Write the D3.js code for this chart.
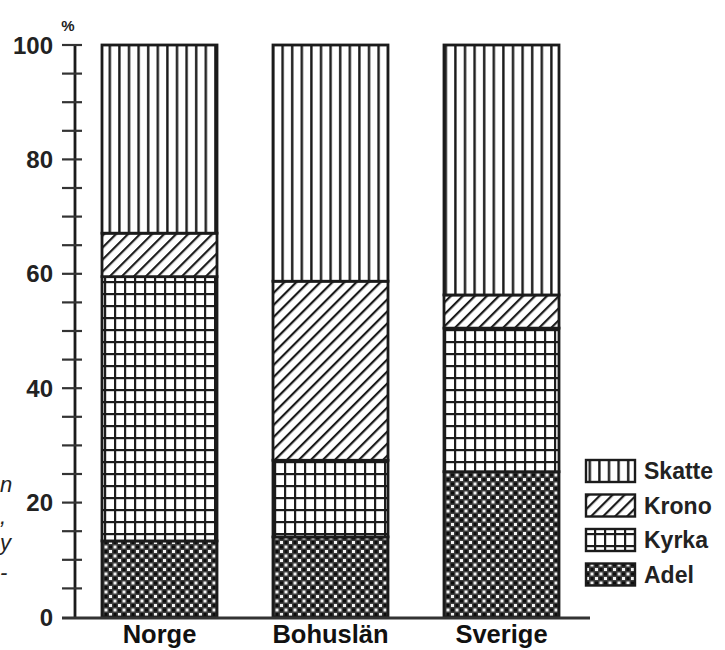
<!DOCTYPE html>
<html>
<head>
<meta charset="utf-8">
<script src="https://cdn.jsdelivr.net/npm/d3@7/dist/d3.min.js"></script>
<style>
html,body{margin:0;padding:0;background:#fff;}
svg{display:block;}
text{font-family:"Liberation Sans",Arial,Helvetica,sans-serif;}
</style>
</head>
<body>
<svg id="chart" width="725" height="650"></svg>
<script>
// ---- data ----
const categories = ["Norge", "Bohuslän", "Sverige"];
const seriesNames = ["Adel", "Kyrka", "Krono", "Skatte"];
const adel   = [13.3, 14.0, 25.4];
const kyrka  = [46.2, 13.4, 25.1];
const krono  = [7.6, 31.3, 5.8];
const skatte = [32.9, 41.3, 43.7];
const yTickLabels = [0, 20, 40, 60, 80, 100];
const legendOrder = ["Skatte", "Krono", "Kyrka", "Adel"];
const sideFragments = ["n", ",", "y", "-"];

const rows = categories.map((c, i) => ({
  cat: c, Adel: adel[i], Kyrka: kyrka[i], Krono: krono[i], Skatte: skatte[i]
}));

const ink = "#1b1b1b";
const svg = d3.select("#chart");
const defs = svg.append("defs");

// ---- patterns ----
const pS = defs.append("pattern").attr("id", "pSkatte")
  .attr("patternUnits", "userSpaceOnUse").attr("width", 9.6).attr("height", 10);
pS.append("rect").attr("width", 9.6).attr("height", 10).attr("fill", "#fff");
pS.append("rect").attr("x", 3).attr("width", 2.4).attr("height", 10).attr("fill", ink);

const pK = defs.append("pattern").attr("id", "pKrono")
  .attr("patternUnits", "userSpaceOnUse").attr("width", 8.5).attr("height", 8)
  .attr("patternTransform", "rotate(45)");
pK.append("rect").attr("width", 8.5).attr("height", 8).attr("fill", "#fff");
pK.append("rect").attr("x", 0).attr("width", 2.2).attr("height", 8).attr("fill", ink);

const pY = defs.append("pattern").attr("id", "pKyrka")
  .attr("patternUnits", "userSpaceOnUse").attr("width", 10).attr("height", 12);
pY.append("rect").attr("width", 10).attr("height", 12).attr("fill", "#fff");
pY.append("rect").attr("x", 4).attr("width", 2.2).attr("height", 12).attr("fill", ink);
pY.append("rect").attr("y", 5).attr("width", 10).attr("height", 2.2).attr("fill", ink);

const pA = defs.append("pattern").attr("id", "pAdel")
  .attr("patternUnits", "userSpaceOnUse").attr("width", 9).attr("height", 9);
pA.append("rect").attr("width", 9).attr("height", 9).attr("fill", "#3c3c3c");
pA.append("rect").attr("x", 1).attr("y", 1).attr("width", 3).attr("height", 3).attr("fill", "#f2f2f2");
pA.append("rect").attr("x", 5.5).attr("y", 5.5).attr("width", 3).attr("height", 3).attr("fill", "#f2f2f2");
pA.append("rect").attr("x", 5.5).attr("y", 1).attr("width", 3).attr("height", 3).attr("fill", "#0d0d0d");
pA.append("rect").attr("x", 1).attr("y", 5.5).attr("width", 3).attr("height", 3).attr("fill", "#0d0d0d");

const fillOf = { Skatte: "url(#pSkatte)", Krono: "url(#pKrono)", Kyrka: "url(#pKyrka)", Adel: "url(#pAdel)" };

// ---- scales ----
const x = d3.scaleBand().domain(categories).range([74, 587])
  .paddingInner(0.3275).paddingOuter(0.16375);
const y = d3.scaleLinear().domain([0, 100]).range([617, 45]);

// ---- bars ----
const stacked = d3.stack().keys(seriesNames)(rows);
const g = svg.append("g");
stacked.forEach(layer => {
  g.selectAll(null).data(layer).enter().append("rect")
    .attr("x", d => x(d.data.cat))
    .attr("y", d => y(d[1]))
    .attr("width", x.bandwidth())
    .attr("height", d => y(d[0]) - y(d[1]))
    .attr("fill", fillOf[layer.key])
    .attr("stroke", ink)
    .attr("stroke-width", 2.8);
});

// ---- y axis ----
const ax = svg.append("g");
ax.append("line").attr("x1", 75).attr("x2", 75).attr("y1", y(100)).attr("y2", y(0))
  .attr("stroke", ink).attr("stroke-width", 2.8);
ax.selectAll(".tk").data(d3.range(5, 101, 5)).enter().append("line")
  .attr("x1", 62).attr("x2", 82)
  .attr("y1", d => y(d)).attr("y2", d => y(d))
  .attr("stroke", "#333").attr("stroke-width", 2.2);
ax.selectAll(".lb").data(yTickLabels).enter().append("text")
  .attr("x", 53).attr("y", d => y(d)).attr("dy", "0.36em")
  .attr("text-anchor", "end").attr("font-size", 24).attr("font-weight", "bold")
  .attr("fill", "#222").text(d => d);
svg.append("text").attr("x", 68).attr("y", 31).attr("text-anchor", "middle")
  .attr("font-size", 15).attr("font-weight", "bold").attr("fill", "#222").text("%");

// baseline
svg.append("line").attr("x1", 62).attr("x2", 590).attr("y1", 618).attr("y2", 618)
  .attr("stroke", "#333").attr("stroke-width", 2.8);

// category labels
svg.selectAll(".cat").data(categories).enter().append("text")
  .attr("x", d => x(d) + x.bandwidth() / 2).attr("y", 643)
  .attr("text-anchor", "middle").attr("font-size", 25.5).attr("font-weight", "bold")
  .attr("fill", "#111").text(d => d);

// ---- legend ----
const lg = svg.append("g");
legendOrder.forEach((k, i) => {
  const ly = 460 + i * 34.5;
  lg.append("rect").attr("x", 586).attr("y", ly).attr("width", 49).attr("height", 22)
    .attr("fill", fillOf[k]).attr("stroke", ink).attr("stroke-width", 2.4);
  lg.append("text").attr("x", 644).attr("y", ly + 11).attr("dy", "0.36em")
    .attr("font-size", 23).attr("font-weight", "bold").attr("fill", "#222").text(k);
});

// ---- cut-off italic fragments at left edge ----
const fragY = [492, 524, 550, 580];
svg.selectAll(".frag").data(sideFragments).enter().append("text")
  .attr("x", 0).attr("y", (d, i) => fragY[i])
  .attr("font-family", "'Liberation Serif', 'DejaVu Serif', serif")
  .attr("font-style", "italic").attr("font-size", 22).attr("fill", "#222")
  .text(d => d);
</script>
</body>
</html>
